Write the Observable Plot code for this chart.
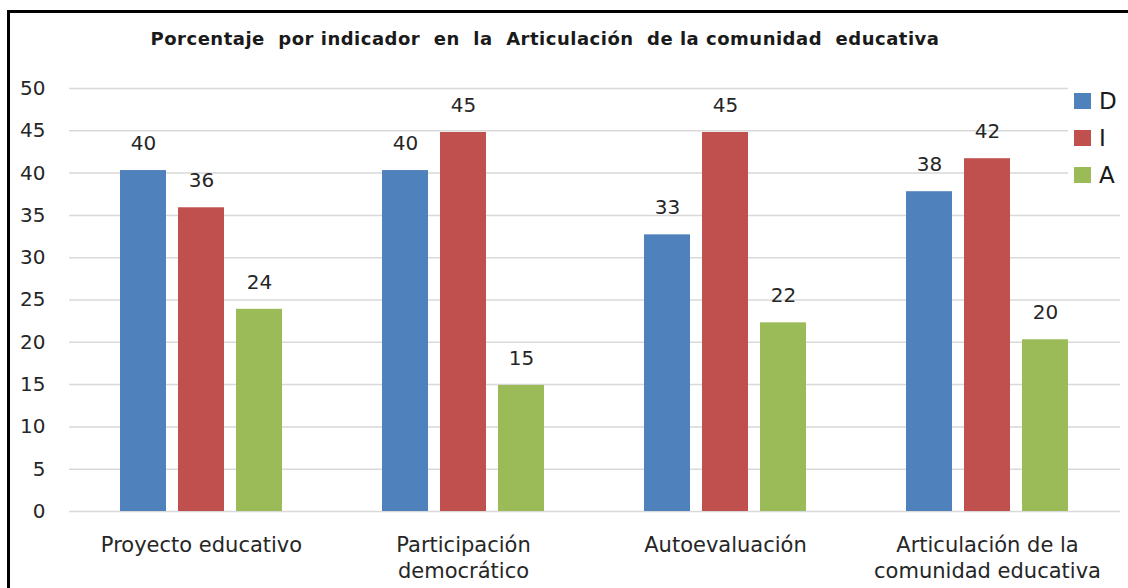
<!DOCTYPE html>
<html><head><meta charset="utf-8">
<script src="https://cdn.jsdelivr.net/npm/d3@7"></script>
<script src="https://cdn.jsdelivr.net/npm/@observablehq/plot@0.6"></script>
<style>
body{margin:0;background:#fff;font-family:"DejaVu Sans",sans-serif;}
#wrap{position:relative;width:1128px;height:588px;overflow:hidden;background:#fff;}
#frame{position:absolute;left:7px;top:10px;width:1140px;height:620px;border:3px solid #000;box-sizing:border-box;}
#title{position:absolute;left:0;top:28px;width:1090px;text-align:center;font-weight:bold;font-size:18px;letter-spacing:0.5px;color:#1a1a1a;white-space:nowrap;}
#chart{position:absolute;left:0;top:0;}
#legend{position:absolute;left:1068px;top:80px;background:#fff;padding:2px 6px;}
.li{display:flex;align-items:center;height:37px;font-size:23px;color:#1a1a1a;}
.sw{width:17px;height:16px;margin-right:8px;}
</style></head>
<body>
<div id="wrap">
  <div id="chart"></div>
  <div id="legend"></div>
  <div id="title">Porcentaje &nbsp;por indicador &nbsp;en &nbsp;la &nbsp;Articulación &nbsp;de la comunidad &nbsp;educativa</div>
  <div id="frame"></div>
</div>
<script>
const categories = ["Proyecto educativo", "Participación\ndemocrático", "Autoevaluación", "Articulación de la\ncomunidad educativa"];
const series = ["D", "I", "A"];
const valuesD = [40.3, 40.3, 32.7, 37.8];
const valuesI = [35.9, 44.8, 44.8, 41.7];
const valuesA = [23.9, 14.9, 22.3, 20.3];
const labelsD = [40, 40, 33, 38];
const labelsI = [36, 45, 45, 42];
const labelsA = [24, 15, 22, 20];
const yTicks = [0, 5, 10, 15, 20, 25, 30, 35, 40, 45, 50];
const colors = ["#4F81BD", "#C0504D", "#9BBB59"];

const seriesData = [valuesD, valuesI, valuesA].map((vals, si) =>
  categories.map((c, i) => ({cat: c, value: vals[i], label: [labelsD, labelsI, labelsA][si][i], series: series[si]})));

const offsets = [-58, 0, 58];
const marks = [
  Plot.gridY(yTicks, {stroke: "#d9d9d9", strokeOpacity: 1, strokeWidth: 1.5})
];
const font = "'DejaVu Sans', sans-serif";
seriesData.forEach((d, si) => {
  marks.push(Plot.barY(d, {x: "cat", y: "value", fill: colors[si], dx: offsets[si]}));
  marks.push(Plot.text(d, {x: "cat", y: "value", text: "label", dx: offsets[si], dy: -27, fontSize: 20, fill: "#262626", lineAnchor: "middle"}));
});

const chart = Plot.plot({
  width: 1128,
  height: 588,
  marginTop: 88,
  marginBottom: 77,
  marginLeft: 69,
  marginRight: 8,
  style: {fontFamily: font, background: "transparent"},
  x: {domain: categories, paddingInner: 0.824, paddingOuter: 0.412, label: null},
  y: {domain: [0, 50], label: null},
  marks: [
    ...marks,
    Plot.axisX({tickSize: 0, tickPadding: 22, fontSize: 21, lineHeight: 1.25, fill: "#262626", lineAnchor: "top", label: null}),
    Plot.axisY(yTicks, {tickSize: 0, tickPadding: 24, fontSize: 20, fill: "#262626", label: null})
  ]
});
document.getElementById("chart").appendChild(chart);

const lg = document.getElementById("legend");
series.forEach((s, i) => {
  const row = document.createElement("div");
  row.className = "li";
  row.innerHTML = `<span class="sw" style="background:${colors[i]}"></span><span>${s}</span>`;
  lg.appendChild(row);
});
</script>
</body></html>
